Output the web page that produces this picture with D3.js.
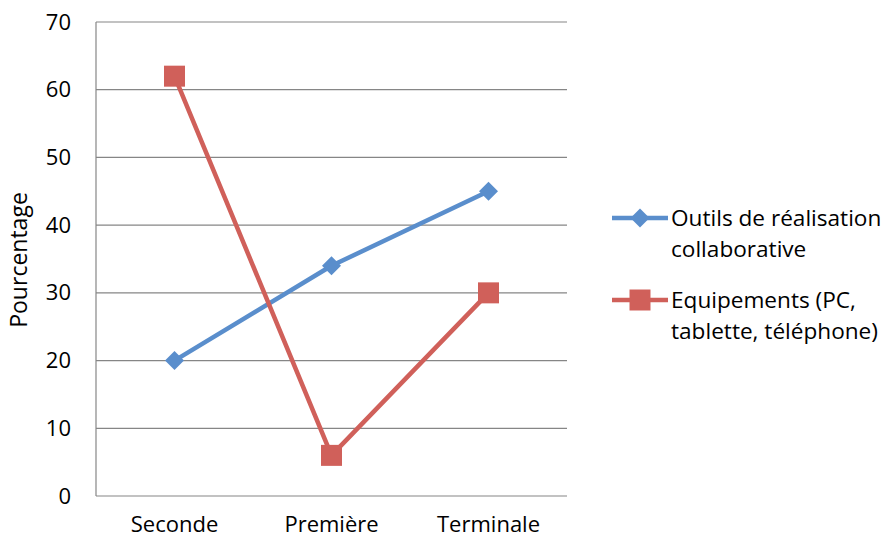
<!DOCTYPE html>
<html><head><meta charset="utf-8">
<script src="https://cdn.jsdelivr.net/npm/d3@7"></script>
<style>body{margin:0;background:#fff}svg text{font-family:"Open Sans",sans-serif;fill:#000}</style>
</head><body><svg id="c" width="890" height="540"></svg>
<script>
const categories = ["Seconde", "Première", "Terminale"];
const outils = [20, 34, 45];
const equipements = [62, 6, 30];
const yTicks = [0, 10, 20, 30, 40, 50, 60, 70];
const seriesNames = [["Outils de réalisation", "collaborative"], ["Equipements (PC,", "tablette, téléphone)"]];

(function () {
const svg = d3.select("#c");
const FONT = "'Open Sans', sans-serif";
const pL = 96, pR = 567, pT = 22, pB = 496;
const x = d3.scaleBand().domain(categories).range([pL, pR]);
const y = d3.scaleLinear().domain([0, 70]).range([pB, pT]);

svg.append("g").selectAll("line").data(yTicks).join("line")
  .attr("x1", pL).attr("x2", pR).attr("y1", d => y(d)).attr("y2", d => y(d))
  .attr("stroke", "#868686").attr("stroke-width", 1.2);
svg.append("line").attr("x1", pL).attr("x2", pL).attr("y1", pT).attr("y2", pB).attr("stroke", "#868686").attr("stroke-width", 1.2);

const yAxis = d3.axisLeft(y).tickValues(yTicks).tickSize(0).tickPadding(0);
const gy = svg.append("g").attr("transform", `translate(${pL - 25},0)`).call(yAxis);
gy.select(".domain").remove();
gy.selectAll("text").attr("font-size", 22).attr("font-family", FONT).attr("fill", "#000");

const xAxis = d3.axisBottom(x).tickSize(0).tickPadding(0);
const gx = svg.append("g").attr("transform", `translate(0,${pB + 20})`).call(xAxis);
gx.select(".domain").remove();
gx.selectAll("text").attr("font-size", 22).attr("font-family", FONT).attr("fill", "#000");

svg.append("text").attr("transform", "translate(27,260) rotate(-90)").attr("text-anchor", "middle")
  .attr("font-size", 23).text("Pourcentage");

const cx = d => x(d) + x.bandwidth() / 2;
const line = d3.line().x(d => cx(d[0])).y(d => y(d[1]));
const blue = "#5A8ECC", red = "#D0605A";

function drawSeries(vals, color, shape) {
  const data = categories.map((c, i) => [c, vals[i]]);
  svg.append("path").datum(data).attr("d", line).attr("fill", "none").attr("stroke", color).attr("stroke-width", 4.5).attr("stroke-linejoin", "round");
  svg.append("g").selectAll("path").data(data).join("path")
    .attr("transform", d => `translate(${cx(d[0])},${y(d[1])})`)
    .attr("d", shape).attr("fill", color);
}
const diamond = "M0,-9.5L9.5,0L0,9.5L-9.5,0Z";
const square = "M-10.5,-10.5H10.5V10.5H-10.5Z";
drawSeries(outils, blue, diamond);
drawSeries(equipements, red, square);

const legY = [218, 300];
const colors = [blue, red], shapes = [diamond, square];
legY.forEach((ly, i) => {
  svg.append("line").attr("x1", 612).attr("x2", 668).attr("y1", ly).attr("y2", ly).attr("stroke", colors[i]).attr("stroke-width", 4.5);
  svg.append("path").attr("transform", `translate(640,${ly})`).attr("d", shapes[i]).attr("fill", colors[i]);
  seriesNames[i].forEach((t, j) => {
    svg.append("text").attr("x", 671).attr("y", ly + 8 + j * 31).attr("font-size", 22.6).text(t);
  });
});
})();
</script></body></html>
